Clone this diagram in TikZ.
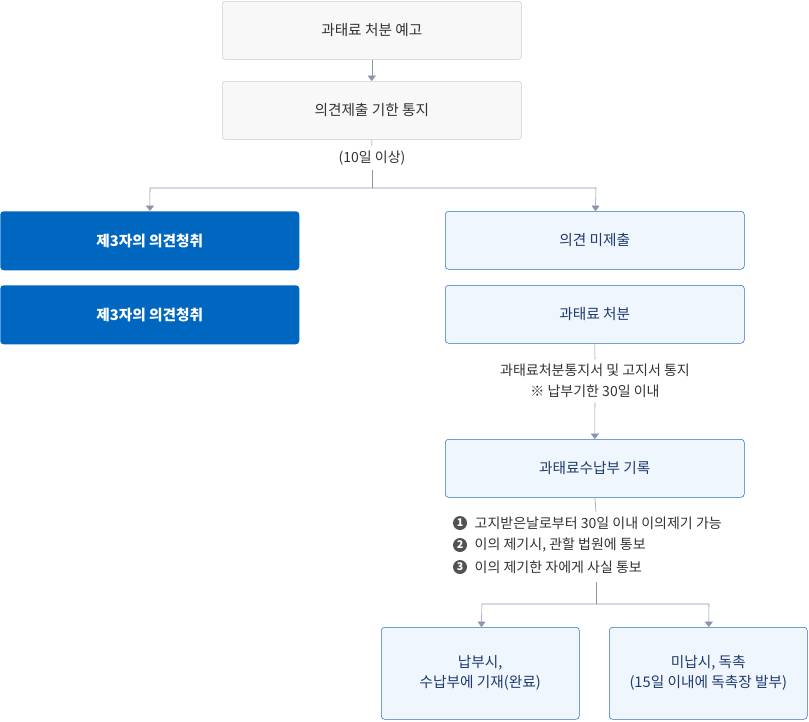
\documentclass[tikz,border=0pt]{standalone}
\usepackage{fontspec}
\setmainfont{Noto Sans CJK KR}
\usetikzlibrary{arrows.meta}
\definecolor{ln}{HTML}{8A94AB}
\definecolor{gb}{HTML}{CCCCCC}
\definecolor{gf}{HTML}{F8F8F8}
\definecolor{bl}{HTML}{0067C0}
\definecolor{lb}{HTML}{F0F6FD}
\definecolor{lbb}{HTML}{2D70C0}
\definecolor{nv}{HTML}{1E3A6E}
\definecolor{tx}{HTML}{333333}
\begin{document}
\begin{tikzpicture}[x=0.75pt,y=-0.75pt,
  gbox/.style={draw=gb,fill=gf,rounded corners=2pt,minimum width=224.25pt,minimum height=43.5pt,text=tx,font=\fontsize{11}{13}\selectfont,anchor=north west},
  bbox/.style={fill=bl,rounded corners=2.5pt,minimum width=224.25pt,minimum height=44.25pt,text=white,font=\fontsize{11}{13}\selectfont\bfseries,anchor=north west},
  lbox/.style={draw=lbb,fill=lb,rounded corners=2.5pt,minimum width=224.25pt,minimum height=43.5pt,text=nv,font=\fontsize{11}{15}\selectfont,anchor=north west,align=center},
  sbox/.style={lbox,minimum width=148.5pt,minimum height=69pt},
  lab/.style={text=tx,font=\fontsize{10.5}{16}\selectfont,align=center},
  num/.style={circle,fill=tx!85,text=white,inner sep=0pt,minimum size=10.5pt,font=\fontsize{8}{8}\selectfont\bfseries},
  arr/.style={draw=ln,-{Triangle[length=4pt,width=6pt]}},
  ln/.style={draw=ln}]
\useasboundingbox (0,0) rectangle (809,721);
\node[gbox] (a) at (222,1) {과태료 처분 예고};
\node[gbox] (b) at (222,81) {의견제출 기한 통지};
\node[lab] (c) at (372,158) {(10일 이상)};
\node[bbox] (d) at (0,211) {제3자의 의견청취};
\node[bbox] (e) at (0,285) {제3자의 의견청취};
\node[lbox] (f) at (445,211) {의견 미제출};
\node[lbox] (g) at (445,285) {과태료 처분};
\node[lab] (h) at (595,381) {과태료처분통지서 및 고지서 통지\\※ 납부기한 30일 이내};
\node[lbox] (i) at (445,439) {과태료수납부 기록};
\node[num] (n1) at (460,523) {1};
\node[num] (n2) at (460,545) {2};
\node[num] (n3) at (460,567) {3};
\node[lab,anchor=west] (t1) at (470,523) {고지받은날로부터 30일 이내 이의제기 가능};
\node[lab,anchor=west] (t2) at (470,545) {이의 제기시, 관할 법원에 통보};
\node[lab,anchor=west] (t3) at (470,567) {이의 제기한 자에게 사실 통보};
\node[sbox] (j) at (381,627) {납부시,\\수납부에 기재(완료)};
\node[sbox] (k) at (609,627) {미납시, 독촉\\(15일 이내에 독촉장 발부)};
\coordinate (s1) at (372,188);
\coordinate (l1) at (150,188);
\coordinate (r1) at (596,188);
\coordinate (s2) at (596,604);
\coordinate (l2) at (482,604);
\coordinate (r2) at (709,604);
\draw[arr] (a) -- (b);
\draw[ln] (b) -- (c);
\draw[ln] (c) -- (s1);
\draw[arr] (s1) -- (l1) -- (d);
\draw[arr] (s1) -- (r1) -- (f);
\draw[ln] (g.south) -- (h.north);
\draw[arr] (h.south) -- (i.north);
\draw[ln] (i.south) -- (596,512);
\draw[ln] (596,582) -- (s2);
\draw[arr] (s2) -- (l2) -- (j);
\draw[arr] (s2) -- (r2) -- (k);
\end{tikzpicture}
\end{document}
